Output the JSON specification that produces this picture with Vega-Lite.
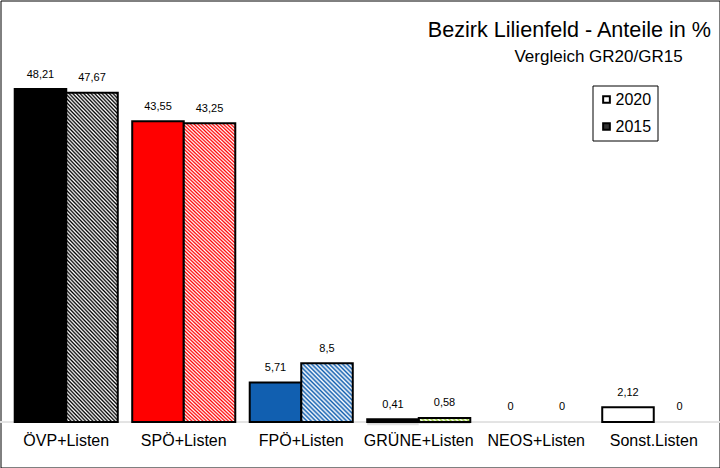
{
"$schema":"https://vega.github.io/schema/vega-lite/v6.json",
"width":719,"height":467,"padding":0.5,"autosize":{"type":"none"},
"background":"#ffffff",
"config":{"view":{"stroke":"#000","strokeWidth":1},"font":"Liberation Sans","locale":{"number":{"decimal":",","thousands":".","grouping":[3],"currency":["","\u00a0€"]}}},
"title":{"text":"Bezirk Lilienfeld - Anteile in %","subtitle":"Vergleich GR20/GR15\u00a0\u00a0\u00a0\u00a0\u00a0\u00a0\u200b","anchor":"end","frame":"group","offset":-64,"dx":-8.5,"font":"Liberation Sans","fontSize":21.6,"fontWeight":"normal","color":"#000","subtitleFont":"Liberation Sans","subtitleFontSize":17,"subtitleColor":"#000","subtitlePadding":7},
"data":{"values":[
{"party":"ÖVP+Listen","year":"2020","value":48.21},
{"party":"ÖVP+Listen","year":"2015","value":47.67},
{"party":"SPÖ+Listen","year":"2020","value":43.55},
{"party":"SPÖ+Listen","year":"2015","value":43.25},
{"party":"FPÖ+Listen","year":"2020","value":5.71},
{"party":"FPÖ+Listen","year":"2015","value":8.5},
{"party":"GRÜNE+Listen","year":"2020","value":0.41},
{"party":"GRÜNE+Listen","year":"2015","value":0.58},
{"party":"NEOS+Listen","year":"2020","value":0},
{"party":"NEOS+Listen","year":"2015","value":0},
{"party":"Sonst.Listen","year":"2020","value":2.12},
{"party":"Sonst.Listen","year":"2015","value":0}
]},
"layer":[
{"mark":{"type":"rule","color":"#e3e3e3","strokeWidth":1},
 "encoding":{"y":{"datum":0,"type":"quantitative","scale":{"domain":[-6.588,61.025],"nice":false,"zero":false},"axis":null}}},
{"transform":[{"filter":"datum.value > 0"}],
 "mark":{"type":"bar","fill":"#e2e2e2","xOffset":6,"yOffset":6},
 "encoding":{
  "x":{"field":"party","type":"nominal","sort":null,"scale":{"domain":["ÖVP+Listen","SPÖ+Listen","FPÖ+Listen","GRÜNE+Listen","NEOS+Listen","Sonst.Listen"],"paddingInner":0.123,"paddingOuter":0.121},"axis":null},
  "xOffset":{"field":"year","type":"nominal","sort":["2020","2015"],"scale":{"domain":["2020","2015"],"paddingInner":0,"paddingOuter":0}},
  "y":{"field":"value","type":"quantitative","scale":{"domain":[-6.588,61.025],"nice":false,"zero":false},"axis":null},
  "y2":{"datum":0}}},
{"transform":[{"filter":"datum.value > 0"}],
 "mark":{"type":"bar","fill":"#b4b4b4","xOffset":3.5,"yOffset":4},
 "encoding":{
  "x":{"field":"party","type":"nominal","sort":null,"scale":{"domain":["ÖVP+Listen","SPÖ+Listen","FPÖ+Listen","GRÜNE+Listen","NEOS+Listen","Sonst.Listen"],"paddingInner":0.123,"paddingOuter":0.121},"axis":null},
  "xOffset":{"field":"year","type":"nominal","sort":["2020","2015"],"scale":{"domain":["2020","2015"],"paddingInner":0,"paddingOuter":0}},
  "y":{"field":"value","type":"quantitative","scale":{"domain":[-6.588,61.025],"nice":false,"zero":false},"axis":null},
  "y2":{"datum":0}}},
{"transform":[{"filter":"datum.value > 0"}],
 "mark":{"type":"bar"},
 "encoding":{
  "x":{"field":"party","type":"nominal","sort":null,"scale":{"domain":["ÖVP+Listen","SPÖ+Listen","FPÖ+Listen","GRÜNE+Listen","NEOS+Listen","Sonst.Listen"],"paddingInner":0.123,"paddingOuter":0.121},"axis":null},
  "xOffset":{"field":"year","type":"nominal","sort":["2020","2015"],"scale":{"domain":["2020","2015"],"paddingInner":0,"paddingOuter":0}},
  "y":{"field":"value","type":"quantitative","scale":{"domain":[-6.588,61.025],"nice":false,"zero":false},"axis":null},
  "y2":{"datum":0},
  "fill":{"condition":[
   {"test":"datum.party==='ÖVP+Listen'","value":"#000000"},
   {"test":"datum.party==='SPÖ+Listen'","value":"#ff0000"},
   {"test":"datum.party==='FPÖ+Listen'","value":"#115fb0"},
   {"test":"datum.party==='GRÜNE+Listen' && datum.year==='2015'","value":"#9bcf3a"},
   {"test":"datum.party==='GRÜNE+Listen'","value":"#000000"}],
   "value":"#ffffff"}}},
{"transform":[{"filter":"datum.value > 0"}],
 "mark":{"type":"bar","stroke":"#000","strokeWidth":2},
 "encoding":{
  "x":{"field":"party","type":"nominal","sort":null,"scale":{"domain":["ÖVP+Listen","SPÖ+Listen","FPÖ+Listen","GRÜNE+Listen","NEOS+Listen","Sonst.Listen"],"paddingInner":0.123,"paddingOuter":0.121},"axis":null},
  "xOffset":{"field":"year","type":"nominal","sort":["2020","2015"],"scale":{"domain":["2020","2015"],"paddingInner":0,"paddingOuter":0}},
  "y":{"field":"value","type":"quantitative","scale":{"domain":[-6.588,61.025],"nice":false,"zero":false},"axis":null},
  "y2":{"datum":0},
  "fill":{"condition":[
   {"test":"datum.year==='2015' && (datum.party==='ÖVP+Listen' || datum.party==='SPÖ+Listen')","value":{"gradient":"linear","x1":0,"y1":1,"x2":0.1858,"y2":-0.1334,"stops":[
{"offset":0,"color":"#fff"},{"offset":0.005,"color":"rgba(255,255,255,0)"},{"offset":0.01,"color":"#fff"},{"offset":0.015,"color":"rgba(255,255,255,0)"},{"offset":0.02,"color":"#fff"},{"offset":0.025,"color":"rgba(255,255,255,0)"},{"offset":0.03,"color":"#fff"},{"offset":0.035,"color":"rgba(255,255,255,0)"},{"offset":0.04,"color":"#fff"},{"offset":0.045,"color":"rgba(255,255,255,0)"},
{"offset":0.05,"color":"#fff"},{"offset":0.055,"color":"rgba(255,255,255,0)"},{"offset":0.06,"color":"#fff"},{"offset":0.065,"color":"rgba(255,255,255,0)"},{"offset":0.07,"color":"#fff"},{"offset":0.075,"color":"rgba(255,255,255,0)"},{"offset":0.08,"color":"#fff"},{"offset":0.085,"color":"rgba(255,255,255,0)"},{"offset":0.09,"color":"#fff"},{"offset":0.095,"color":"rgba(255,255,255,0)"},
{"offset":0.1,"color":"#fff"},{"offset":0.105,"color":"rgba(255,255,255,0)"},{"offset":0.11,"color":"#fff"},{"offset":0.115,"color":"rgba(255,255,255,0)"},{"offset":0.12,"color":"#fff"},{"offset":0.125,"color":"rgba(255,255,255,0)"},{"offset":0.13,"color":"#fff"},{"offset":0.135,"color":"rgba(255,255,255,0)"},{"offset":0.14,"color":"#fff"},{"offset":0.145,"color":"rgba(255,255,255,0)"},
{"offset":0.15,"color":"#fff"},{"offset":0.155,"color":"rgba(255,255,255,0)"},{"offset":0.16,"color":"#fff"},{"offset":0.165,"color":"rgba(255,255,255,0)"},{"offset":0.17,"color":"#fff"},{"offset":0.175,"color":"rgba(255,255,255,0)"},{"offset":0.18,"color":"#fff"},{"offset":0.185,"color":"rgba(255,255,255,0)"},{"offset":0.19,"color":"#fff"},{"offset":0.195,"color":"rgba(255,255,255,0)"},
{"offset":0.2,"color":"#fff"},{"offset":0.205,"color":"rgba(255,255,255,0)"},{"offset":0.21,"color":"#fff"},{"offset":0.215,"color":"rgba(255,255,255,0)"},{"offset":0.22,"color":"#fff"},{"offset":0.225,"color":"rgba(255,255,255,0)"},{"offset":0.23,"color":"#fff"},{"offset":0.235,"color":"rgba(255,255,255,0)"},{"offset":0.24,"color":"#fff"},{"offset":0.245,"color":"rgba(255,255,255,0)"},
{"offset":0.25,"color":"#fff"},{"offset":0.255,"color":"rgba(255,255,255,0)"},{"offset":0.26,"color":"#fff"},{"offset":0.265,"color":"rgba(255,255,255,0)"},{"offset":0.27,"color":"#fff"},{"offset":0.275,"color":"rgba(255,255,255,0)"},{"offset":0.28,"color":"#fff"},{"offset":0.285,"color":"rgba(255,255,255,0)"},{"offset":0.29,"color":"#fff"},{"offset":0.295,"color":"rgba(255,255,255,0)"},
{"offset":0.3,"color":"#fff"},{"offset":0.305,"color":"rgba(255,255,255,0)"},{"offset":0.31,"color":"#fff"},{"offset":0.315,"color":"rgba(255,255,255,0)"},{"offset":0.32,"color":"#fff"},{"offset":0.325,"color":"rgba(255,255,255,0)"},{"offset":0.33,"color":"#fff"},{"offset":0.335,"color":"rgba(255,255,255,0)"},{"offset":0.34,"color":"#fff"},{"offset":0.345,"color":"rgba(255,255,255,0)"},
{"offset":0.35,"color":"#fff"},{"offset":0.355,"color":"rgba(255,255,255,0)"},{"offset":0.36,"color":"#fff"},{"offset":0.365,"color":"rgba(255,255,255,0)"},{"offset":0.37,"color":"#fff"},{"offset":0.375,"color":"rgba(255,255,255,0)"},{"offset":0.38,"color":"#fff"},{"offset":0.385,"color":"rgba(255,255,255,0)"},{"offset":0.39,"color":"#fff"},{"offset":0.395,"color":"rgba(255,255,255,0)"},
{"offset":0.4,"color":"#fff"},{"offset":0.405,"color":"rgba(255,255,255,0)"},{"offset":0.41,"color":"#fff"},{"offset":0.415,"color":"rgba(255,255,255,0)"},{"offset":0.42,"color":"#fff"},{"offset":0.425,"color":"rgba(255,255,255,0)"},{"offset":0.43,"color":"#fff"},{"offset":0.435,"color":"rgba(255,255,255,0)"},{"offset":0.44,"color":"#fff"},{"offset":0.445,"color":"rgba(255,255,255,0)"},
{"offset":0.45,"color":"#fff"},{"offset":0.455,"color":"rgba(255,255,255,0)"},{"offset":0.46,"color":"#fff"},{"offset":0.465,"color":"rgba(255,255,255,0)"},{"offset":0.47,"color":"#fff"},{"offset":0.475,"color":"rgba(255,255,255,0)"},{"offset":0.48,"color":"#fff"},{"offset":0.485,"color":"rgba(255,255,255,0)"},{"offset":0.49,"color":"#fff"},{"offset":0.495,"color":"rgba(255,255,255,0)"},
{"offset":0.5,"color":"#fff"},{"offset":0.505,"color":"rgba(255,255,255,0)"},{"offset":0.51,"color":"#fff"},{"offset":0.515,"color":"rgba(255,255,255,0)"},{"offset":0.52,"color":"#fff"},{"offset":0.525,"color":"rgba(255,255,255,0)"},{"offset":0.53,"color":"#fff"},{"offset":0.535,"color":"rgba(255,255,255,0)"},{"offset":0.54,"color":"#fff"},{"offset":0.545,"color":"rgba(255,255,255,0)"},
{"offset":0.55,"color":"#fff"},{"offset":0.555,"color":"rgba(255,255,255,0)"},{"offset":0.56,"color":"#fff"},{"offset":0.565,"color":"rgba(255,255,255,0)"},{"offset":0.57,"color":"#fff"},{"offset":0.575,"color":"rgba(255,255,255,0)"},{"offset":0.58,"color":"#fff"},{"offset":0.585,"color":"rgba(255,255,255,0)"},{"offset":0.59,"color":"#fff"},{"offset":0.595,"color":"rgba(255,255,255,0)"},
{"offset":0.6,"color":"#fff"},{"offset":0.605,"color":"rgba(255,255,255,0)"},{"offset":0.61,"color":"#fff"},{"offset":0.615,"color":"rgba(255,255,255,0)"},{"offset":0.62,"color":"#fff"},{"offset":0.625,"color":"rgba(255,255,255,0)"},{"offset":0.63,"color":"#fff"},{"offset":0.635,"color":"rgba(255,255,255,0)"},{"offset":0.64,"color":"#fff"},{"offset":0.645,"color":"rgba(255,255,255,0)"},
{"offset":0.65,"color":"#fff"},{"offset":0.655,"color":"rgba(255,255,255,0)"},{"offset":0.66,"color":"#fff"},{"offset":0.665,"color":"rgba(255,255,255,0)"},{"offset":0.67,"color":"#fff"},{"offset":0.675,"color":"rgba(255,255,255,0)"},{"offset":0.68,"color":"#fff"},{"offset":0.685,"color":"rgba(255,255,255,0)"},{"offset":0.69,"color":"#fff"},{"offset":0.695,"color":"rgba(255,255,255,0)"},
{"offset":0.7,"color":"#fff"},{"offset":0.705,"color":"rgba(255,255,255,0)"},{"offset":0.71,"color":"#fff"},{"offset":0.715,"color":"rgba(255,255,255,0)"},{"offset":0.72,"color":"#fff"},{"offset":0.725,"color":"rgba(255,255,255,0)"},{"offset":0.73,"color":"#fff"},{"offset":0.735,"color":"rgba(255,255,255,0)"},{"offset":0.74,"color":"#fff"},{"offset":0.745,"color":"rgba(255,255,255,0)"},
{"offset":0.75,"color":"#fff"},{"offset":0.755,"color":"rgba(255,255,255,0)"},{"offset":0.76,"color":"#fff"},{"offset":0.765,"color":"rgba(255,255,255,0)"},{"offset":0.77,"color":"#fff"},{"offset":0.775,"color":"rgba(255,255,255,0)"},{"offset":0.78,"color":"#fff"},{"offset":0.785,"color":"rgba(255,255,255,0)"},{"offset":0.79,"color":"#fff"},{"offset":0.795,"color":"rgba(255,255,255,0)"},
{"offset":0.8,"color":"#fff"},{"offset":0.805,"color":"rgba(255,255,255,0)"},{"offset":0.81,"color":"#fff"},{"offset":0.815,"color":"rgba(255,255,255,0)"},{"offset":0.82,"color":"#fff"},{"offset":0.825,"color":"rgba(255,255,255,0)"},{"offset":0.83,"color":"#fff"},{"offset":0.835,"color":"rgba(255,255,255,0)"},{"offset":0.84,"color":"#fff"},{"offset":0.845,"color":"rgba(255,255,255,0)"},
{"offset":0.85,"color":"#fff"},{"offset":0.855,"color":"rgba(255,255,255,0)"},{"offset":0.86,"color":"#fff"},{"offset":0.865,"color":"rgba(255,255,255,0)"},{"offset":0.87,"color":"#fff"},{"offset":0.875,"color":"rgba(255,255,255,0)"},{"offset":0.88,"color":"#fff"},{"offset":0.885,"color":"rgba(255,255,255,0)"},{"offset":0.89,"color":"#fff"},{"offset":0.895,"color":"rgba(255,255,255,0)"},
{"offset":0.9,"color":"#fff"},{"offset":0.905,"color":"rgba(255,255,255,0)"},{"offset":0.91,"color":"#fff"},{"offset":0.915,"color":"rgba(255,255,255,0)"},{"offset":0.92,"color":"#fff"},{"offset":0.925,"color":"rgba(255,255,255,0)"},{"offset":0.93,"color":"#fff"},{"offset":0.935,"color":"rgba(255,255,255,0)"},{"offset":0.94,"color":"#fff"},{"offset":0.945,"color":"rgba(255,255,255,0)"},
{"offset":0.95,"color":"#fff"},{"offset":0.955,"color":"rgba(255,255,255,0)"},{"offset":0.96,"color":"#fff"},{"offset":0.965,"color":"rgba(255,255,255,0)"},{"offset":0.97,"color":"#fff"},{"offset":0.975,"color":"rgba(255,255,255,0)"},{"offset":0.98,"color":"#fff"},{"offset":0.985,"color":"rgba(255,255,255,0)"},{"offset":0.99,"color":"#fff"},{"offset":0.995,"color":"rgba(255,255,255,0)"},
{"offset":1,"color":"#fff"}]}},
   {"test":"datum.year==='2015' && datum.party==='FPÖ+Listen'","value":{"gradient":"linear","x1":0,"y1":1,"x2":0.9306,"y2":-0.0609,"stops":[
{"offset":0,"color":"#fff"},{"offset":0.02,"color":"rgba(255,255,255,0)"},{"offset":0.04,"color":"#fff"},{"offset":0.06,"color":"rgba(255,255,255,0)"},{"offset":0.08,"color":"#fff"},{"offset":0.1,"color":"rgba(255,255,255,0)"},{"offset":0.12,"color":"#fff"},{"offset":0.14,"color":"rgba(255,255,255,0)"},{"offset":0.16,"color":"#fff"},{"offset":0.18,"color":"rgba(255,255,255,0)"},
{"offset":0.2,"color":"#fff"},{"offset":0.22,"color":"rgba(255,255,255,0)"},{"offset":0.24,"color":"#fff"},{"offset":0.26,"color":"rgba(255,255,255,0)"},{"offset":0.28,"color":"#fff"},{"offset":0.3,"color":"rgba(255,255,255,0)"},{"offset":0.32,"color":"#fff"},{"offset":0.34,"color":"rgba(255,255,255,0)"},{"offset":0.36,"color":"#fff"},{"offset":0.38,"color":"rgba(255,255,255,0)"},
{"offset":0.4,"color":"#fff"},{"offset":0.42,"color":"rgba(255,255,255,0)"},{"offset":0.44,"color":"#fff"},{"offset":0.46,"color":"rgba(255,255,255,0)"},{"offset":0.48,"color":"#fff"},{"offset":0.5,"color":"rgba(255,255,255,0)"},{"offset":0.52,"color":"#fff"},{"offset":0.54,"color":"rgba(255,255,255,0)"},{"offset":0.56,"color":"#fff"},{"offset":0.58,"color":"rgba(255,255,255,0)"},
{"offset":0.6,"color":"#fff"},{"offset":0.62,"color":"rgba(255,255,255,0)"},{"offset":0.64,"color":"#fff"},{"offset":0.66,"color":"rgba(255,255,255,0)"},{"offset":0.68,"color":"#fff"},{"offset":0.7,"color":"rgba(255,255,255,0)"},{"offset":0.72,"color":"#fff"},{"offset":0.74,"color":"rgba(255,255,255,0)"},{"offset":0.76,"color":"#fff"},{"offset":0.78,"color":"rgba(255,255,255,0)"},
{"offset":0.8,"color":"#fff"},{"offset":0.82,"color":"rgba(255,255,255,0)"},{"offset":0.84,"color":"#fff"},{"offset":0.86,"color":"rgba(255,255,255,0)"},{"offset":0.88,"color":"#fff"},{"offset":0.9,"color":"rgba(255,255,255,0)"},{"offset":0.92,"color":"#fff"},{"offset":0.94,"color":"rgba(255,255,255,0)"},{"offset":0.96,"color":"#fff"},{"offset":0.98,"color":"rgba(255,255,255,0)"},
{"offset":1,"color":"#fff"}]}},
   {"test":"datum.year==='2015' && datum.party==='GRÜNE+Listen'","value":{"gradient":"linear","x1":0,"y1":1,"x2":1.0713,"y2":0.9166,"stops":[
{"offset":0,"color":"#fff"},{"offset":0.04,"color":"rgba(255,255,255,0)"},{"offset":0.08,"color":"#fff"},{"offset":0.12,"color":"rgba(255,255,255,0)"},{"offset":0.16,"color":"#fff"},{"offset":0.2,"color":"rgba(255,255,255,0)"},{"offset":0.24,"color":"#fff"},{"offset":0.28,"color":"rgba(255,255,255,0)"},{"offset":0.32,"color":"#fff"},{"offset":0.36,"color":"rgba(255,255,255,0)"},
{"offset":0.4,"color":"#fff"},{"offset":0.44,"color":"rgba(255,255,255,0)"},{"offset":0.48,"color":"#fff"},{"offset":0.52,"color":"rgba(255,255,255,0)"},{"offset":0.56,"color":"#fff"},{"offset":0.6,"color":"rgba(255,255,255,0)"},{"offset":0.64,"color":"#fff"},{"offset":0.68,"color":"rgba(255,255,255,0)"},{"offset":0.72,"color":"#fff"},{"offset":0.76,"color":"rgba(255,255,255,0)"},
{"offset":0.8,"color":"#fff"},{"offset":0.84,"color":"rgba(255,255,255,0)"},{"offset":0.88,"color":"#fff"},{"offset":0.92,"color":"rgba(255,255,255,0)"},{"offset":0.96,"color":"#fff"},{"offset":1,"color":"rgba(255,255,255,0)"}]}}],
   "value":"transparent"}}},
{"mark":{"type":"text","fontSize":11,"dy":-14.5,"baseline":"middle","color":"#000","font":"Liberation Sans"},
 "encoding":{
  "x":{"field":"party","type":"nominal","sort":null,"scale":{"domain":["ÖVP+Listen","SPÖ+Listen","FPÖ+Listen","GRÜNE+Listen","NEOS+Listen","Sonst.Listen"],"paddingInner":0.123,"paddingOuter":0.121},"axis":null},
  "xOffset":{"field":"year","type":"nominal","sort":["2020","2015"],"scale":{"domain":["2020","2015"],"paddingInner":0,"paddingOuter":0}},
  "y":{"field":"value","type":"quantitative","scale":{"domain":[-6.588,61.025],"nice":false,"zero":false},"axis":null},
  "text":{"field":"value","type":"quantitative","format":"~g"}}},
{"transform":[{"filter":"datum.year==='2020'"}],
 "mark":{"type":"text","fontSize":16,"dy":19,"baseline":"middle","color":"#000","font":"Liberation Sans"},
 "encoding":{
  "x":{"field":"party","type":"nominal","sort":null,"scale":{"domain":["ÖVP+Listen","SPÖ+Listen","FPÖ+Listen","GRÜNE+Listen","NEOS+Listen","Sonst.Listen"],"paddingInner":0.123,"paddingOuter":0.121},"axis":null},
  "y":{"datum":0,"type":"quantitative","scale":{"domain":[-6.588,61.025],"nice":false,"zero":false},"axis":null},
  "text":{"field":"party","type":"nominal"}}},
{"transform":[{"filter":"datum.value < -100"}],
 "mark":{"type":"square"},
 "encoding":{
  "fill":{"field":"year","type":"nominal","scale":{"domain":["2020","2015"],"range":["#ffffff","#333333"]},
   "legend":{"orient":"none","legendX":592,"legendY":85,"title":null,"strokeColor":"#000","padding":6,"fillColor":"#fff","symbolType":"square","symbolSize":45,"symbolStrokeColor":"#000","symbolStrokeWidth":2,"symbolOpacity":1,"labelFontSize":16,"labelFont":"Liberation Sans","labelColor":"#000","labelOffset":1,"rowPadding":11}}}}
]
}
